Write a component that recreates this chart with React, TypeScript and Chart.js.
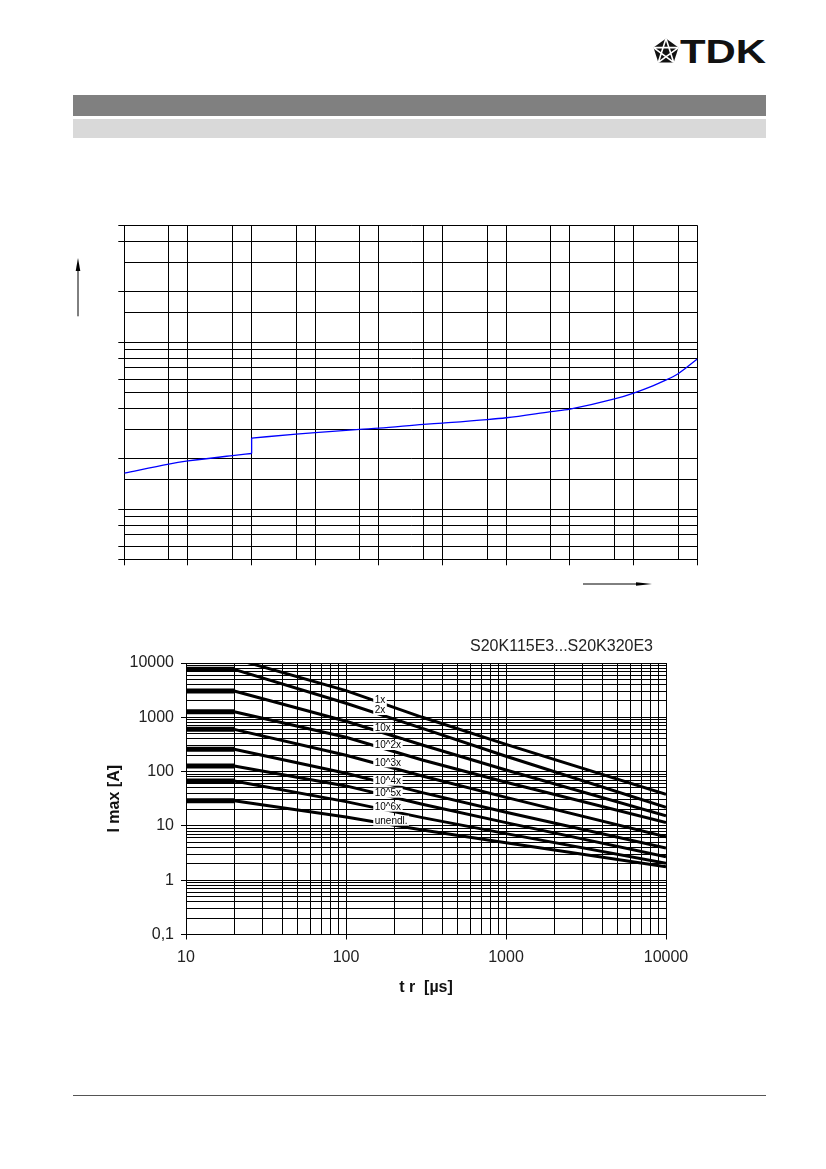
import { useEffect, useRef } from "react";
import { Chart, registerables } from "chart.js";

Chart.register(...registerables);

const FONT = '"Liberation Sans", Arial, Helvetica, sans-serif';
Chart.defaults.font.family = FONT;
Chart.defaults.color = "#222";

// upper chart: V/I characteristic, current [A] against voltage [V] (no tick labels in the scan)
const viCurrent = [1e-5, 5e-5, 1e-4, 5e-4, 1e-3, 1e-3, 5e-3, 1e-2, 5e-2, 0.1, 0.5, 1, 5, 10, 50, 100, 500, 1000, 2000, 3000, 5000, 10000];
const viVoltage = [164, 186, 194, 209, 215, 266, 281, 287, 300, 305, 321, 327, 343, 352, 383, 397, 456, 495, 547, 585, 646, 791];
const viGridX = [1e-5, 5e-5, 1e-4, 5e-4, 1e-3, 5e-3, 1e-2, 5e-2, 0.1, 0.5, 1, 5, 10, 50, 100, 500, 1000, 5000, 10000];
const viMarksX = [1e-5, 1e-4, 1e-3, 1e-2, 0.1, 1, 10, 100, 1000, 10000];
const viGridY = [50, 60, 70, 80, 90, 100, 150, 200, 300, 400, 500, 600, 700, 800, 900, 1000, 1500, 2000, 3000, 4000, 5000];
const viMarksY = [50, 60, 80, 100, 200, 400, 600, 800, 1000, 2000, 4000, 5000];

// lower chart: I max against t r, one curve per number of pulses
const trTime = [10, 20, 100, 300, 1000, 10000];
const imax1x = [12000, 12000, 3100, 1000, 317, 38];
const imax2x = [7650, 7650, 1810, 627, 192, 22];
const imax10x = [3050, 3050, 844, 309, 107, 15.4];
const imax1e2x = [1270, 1270, 430, 164, 63.5, 11.5];
const imax1e3x = [600, 600, 200, 83, 33.5, 6.3];
const imax1e4x = [257, 257, 93, 41, 17.8, 3.9];
const imax1e5x = [127, 127, 54.5, 25, 11.5, 2.7];
const imax1e6x = [67, 67, 28, 14.2, 7.2, 2.05];
const imaxInf = [29, 29, 14.6, 8.4, 4.9, 1.77];
const curveNames = ["1x", "2x", "10x", "10^2x", "10^3x", "10^4x", "10^5x", "10^6x", "unendl."];
const curveLabelTime = 148;
const curveLabelCurrent = [2083, 1363, 643, 309, 148, 68, 40.9, 22.6, 12.5];
const decadesY = [0.1, 1, 10, 100, 1000, 10000];
const decadeLabelsY = ["0,1", "1", "10", "100", "1000", "10000"];
const decadesX = [10, 100, 1000, 10000];
const decadeLabelsX = ["10", "100", "1000", "10000"];
const minorSteps = [1, 2, 3, 4, 5, 6, 7, 8, 9];
const chartTitle = "S20K115E3...S20K320E3";

const findIn = (list: number[], v: number) => list.findIndex((d) => Math.abs(d - v) <= d * 1e-6);
const markColor = (list: number[]) => (c: any) =>
  c.tick && findIn(list, c.tick.value) >= 0 ? "#000" : "rgba(0,0,0,0)";
const gridOf = (decades: number[]) =>
  decades.slice(0, -1).flatMap((d) => minorSteps.map((s) => d * s)).concat(decades.slice(-1));

const arrowPlugin = {
  id: "axisArrows",
  afterDraw(chart: any) {
    const { ctx, chartArea } = chart;
    ctx.save();
    ctx.strokeStyle = "#000";
    ctx.fillStyle = "#000";
    ctx.lineWidth = 1;
    // vertical arrow left of the plot
    const ax = chartArea.left - 46.3;
    const tip = chartArea.top + 32.7;
    ctx.beginPath();
    ctx.moveTo(ax, chartArea.top + 91);
    ctx.lineTo(ax, tip + 10);
    ctx.stroke();
    ctx.beginPath();
    ctx.moveTo(ax, tip);
    ctx.lineTo(ax + 2.3, tip + 13);
    ctx.lineTo(ax - 2.3, tip + 13);
    ctx.closePath();
    ctx.fill();
    // horizontal arrow below the plot
    const ay = chartArea.bottom + 24.7;
    const tx = chartArea.right - 45.3;
    ctx.beginPath();
    ctx.moveTo(chartArea.right - 114.3, ay);
    ctx.lineTo(tx - 10, ay);
    ctx.stroke();
    ctx.beginPath();
    ctx.moveTo(tx, ay);
    ctx.lineTo(tx - 16, ay - 1.8);
    ctx.lineTo(tx - 16, ay + 1.8);
    ctx.closePath();
    ctx.fill();
    ctx.restore();
  },
};

const curveLabelPlugin = {
  id: "curveLabels",
  afterDatasetsDraw(chart: any) {
    const { ctx, chartArea, scales } = chart;
    ctx.save();
    ctx.font = `10px ${FONT}`;
    ctx.textBaseline = "middle";
    curveNames.forEach((name, i) => {
      const px = scales.x.getPixelForValue(curveLabelTime);
      const py = scales.y.getPixelForValue(curveLabelCurrent[i]);
      const w = ctx.measureText(name).width;
      ctx.fillStyle = "#fff";
      ctx.fillRect(px, py - 5, w + 3, 10);
      ctx.fillStyle = "#000";
      ctx.fillText(name, px + 1.5, py + 0.5);
    });
    ctx.font = `16px ${FONT}`;
    ctx.textAlign = "right";
    ctx.fillStyle = "#222";
    ctx.fillText(chartTitle, chartArea.right - 13, chartArea.top - 16);
    ctx.restore();
  },
};

function ViChart() {
  const canvasRef = useRef<HTMLCanvasElement | null>(null);

  useEffect(() => {
    if (!canvasRef.current) return;
    const points = viCurrent.map((x, i) => ({ x, y: viVoltage[i] }));
    // the curve jumps where the current value repeats
    const jump = viCurrent.findIndex((x, i) => i > 0 && x === viCurrent[i - 1]);
    const lineStyle = {
      borderColor: "#0000ff",
      borderWidth: 1.3,
      pointRadius: 0,
      fill: false,
    };
    const chart = new Chart(canvasRef.current, {
      type: "line",
      data: {
        datasets: [
          { ...lineStyle, data: points.slice(0, jump), cubicInterpolationMode: "monotone" },
          { ...lineStyle, data: points.slice(jump - 1, jump + 1), tension: 0 },
          { ...lineStyle, data: points.slice(jump), cubicInterpolationMode: "monotone" },
        ],
      },
      options: {
        animation: false,
        responsive: false,
        events: [],
        layout: { padding: { left: 0, right: 22.7, top: 10.3, bottom: 0 } },
        plugins: { legend: { display: false }, tooltip: { enabled: false } },
        scales: {
          x: {
            type: "logarithmic",
            min: 1e-5,
            max: 1e4,
            bounds: "data",
            afterBuildTicks: (s: any) => {
              s.ticks = viGridX.map((value) => ({ value }));
            },
            afterFit: (s: any) => {
              s.height = 35.7;
            },
            ticks: { display: false, autoSkip: false, maxRotation: 0 },
            grid: { color: "#000", lineWidth: 1, tickLength: 6, tickColor: markColor(viMarksX) },
            border: { display: true, color: "#000", width: 1 },
          },
          y: {
            type: "logarithmic",
            min: 50,
            max: 5000,
            bounds: "data",
            afterBuildTicks: (s: any) => {
              s.ticks = viGridY.map((value) => ({ value }));
            },
            afterFit: (s: any) => {
              s.width = 64.3;
            },
            ticks: { display: false, autoSkip: false },
            grid: { color: "#000", lineWidth: 1, tickLength: 6, tickColor: markColor(viMarksY) },
            border: { display: true, color: "#000", width: 1 },
          },
        },
      },
      plugins: [arrowPlugin],
    } as any);
    return () => chart.destroy();
  }, []);

  return (
    <canvas
      ref={canvasRef}
      width={660}
      height={380}
      style={{ position: "absolute", left: 60, top: 215, width: 660, height: 380 }}
    />
  );
}

function DeratingChart() {
  const canvasRef = useRef<HTMLCanvasElement | null>(null);

  useEffect(() => {
    if (!canvasRef.current) return;
    const series = [imax1x, imax2x, imax10x, imax1e2x, imax1e3x, imax1e4x, imax1e5x, imax1e6x, imaxInf];
    const chart = new Chart(canvasRef.current, {
      type: "line",
      data: {
        datasets: series.map((values, k) => ({
          label: curveNames[k],
          data: trTime.map((x, i) => ({ x, y: values[i] })),
          borderColor: "#000",
          borderWidth: 3,
          pointRadius: 0,
          tension: 0,
          fill: false,
          segment: {
            borderWidth: (c: any) => (c.p0.parsed.y === c.p1.parsed.y ? 5 : 3),
          },
        })),
      },
      options: {
        animation: false,
        responsive: false,
        events: [],
        layout: { padding: { left: 0, right: 54, top: 43, bottom: 0 } },
        plugins: { legend: { display: false }, tooltip: { enabled: false } },
        scales: {
          x: {
            type: "logarithmic",
            min: 10,
            max: 10000,
            bounds: "data",
            afterBuildTicks: (s: any) => {
              s.ticks = gridOf(decadesX).map((value) => ({ value }));
            },
            afterFit: (s: any) => {
              s.height = 85.5;
            },
            ticks: {
              autoSkip: false,
              maxRotation: 0,
              minRotation: 0,
              padding: 8,
              color: "#222",
              font: { size: 16 },
              callback: (v: number) => {
                const k = findIn(decadesX, v);
                return k >= 0 ? decadeLabelsX[k] : "";
              },
            },
            grid: { color: "#000", lineWidth: 1, tickLength: 5, tickColor: markColor(decadesX) },
            border: { display: true, color: "#000", width: 1 },
            title: {
              display: true,
              text: "t r  [µs]",
              color: "#111",
              font: { size: 16, weight: "bold" },
              padding: { top: 0, bottom: 22.4 },
            },
          },
          y: {
            type: "logarithmic",
            min: 0.1,
            max: 10000,
            bounds: "data",
            afterBuildTicks: (s: any) => {
              s.ticks = gridOf(decadesY).map((value) => ({ value }));
            },
            afterFit: (s: any) => {
              s.width = 126;
            },
            ticks: {
              autoSkip: false,
              padding: 7,
              color: "#222",
              font: { size: 16 },
              callback: (v: number) => {
                const k = findIn(decadesY, v);
                return k >= 0 ? decadeLabelsY[k] : "";
              },
            },
            grid: { color: "#000", lineWidth: 1, tickLength: 5, tickColor: markColor(decadesY) },
            border: { display: true, color: "#000", width: 1 },
            title: {
              display: true,
              text: "I max [A]",
              color: "#111",
              font: { size: 16, weight: "bold" },
              padding: { top: 45, bottom: 0 },
            },
          },
        },
      },
      plugins: [curveLabelPlugin],
    } as any);
    return () => chart.destroy();
  }, []);

  return (
    <canvas
      ref={canvasRef}
      width={660}
      height={400}
      style={{ position: "absolute", left: 60, top: 620, width: 660, height: 400 }}
    />
  );
}

function TdkLogo() {
  return (
    <>
      <svg width={26} height={26} viewBox="0 0 26 26" style={{ position: "absolute", left: 653, top: 38 }}>
        <polygon points="13,0.5 25.5,9.6 20.7,24.4 5.3,24.4 0.5,9.6" fill="#111" />
        <polyline
          points="13,0.5 20.7,24.4 0.5,9.6 25.5,9.6 5.3,24.4 13,0.5"
          fill="none"
          stroke="#fff"
          strokeWidth={1.6}
          strokeLinejoin="bevel"
        />
      </svg>
      <div
        style={{
          position: "absolute",
          left: 680,
          top: 35,
          fontFamily: FONT,
          fontWeight: "bold",
          fontSize: 33,
          lineHeight: 1,
          color: "#111",
          transform: "scaleX(1.27)",
          transformOrigin: "left top",
          whiteSpace: "nowrap",
        }}
      >
        TDK
      </div>
    </>
  );
}

export default function App() {
  return (
    <div
      style={{
        position: "absolute",
        left: 0,
        top: 0,
        width: 826,
        height: 1169,
        background: "#fff",
        overflow: "hidden",
        fontFamily: FONT,
      }}
    >
      <TdkLogo />
      <div style={{ position: "absolute", left: 73, top: 95, width: 693, height: 21, background: "#808080" }} />
      <div style={{ position: "absolute", left: 73, top: 119, width: 693, height: 19, background: "#d9d9d9" }} />
      <ViChart />
      <DeratingChart />
      <div style={{ position: "absolute", left: 73, top: 1095, width: 693, height: 1, background: "#555" }} />
    </div>
  );
}
